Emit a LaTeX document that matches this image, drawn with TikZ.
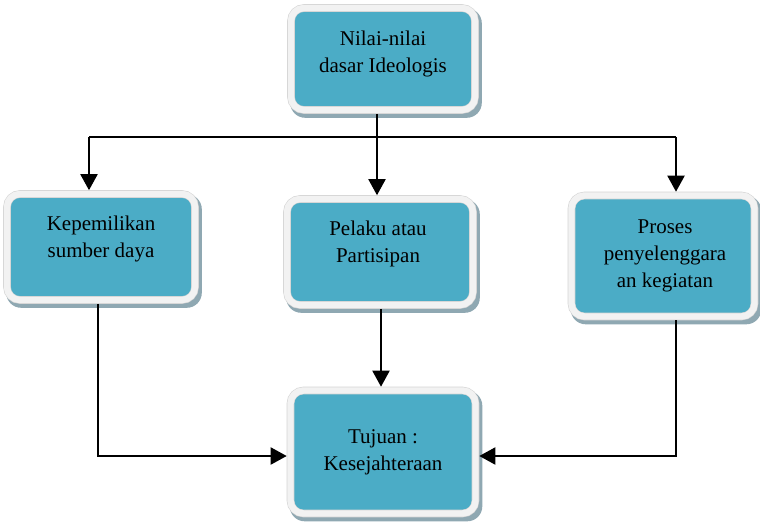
\documentclass[tikz,border=0pt]{standalone}
\usepackage{fontspec}
\setmainfont{Liberation Serif}
\usetikzlibrary{arrows.meta}
\pgfdeclarelayer{background}
\pgfsetlayers{background,main}
\definecolor{boxteal}{HTML}{4BACC6}
\definecolor{boxrim}{HTML}{F2F2F2}
\definecolor{boxline}{HTML}{D4D4D4}
\definecolor{boxshade}{HTML}{8FA8B2}

\begin{document}
\begin{tikzpicture}[x=1pt, y=-1pt,
  box/.style={draw=boxline, line width=0.6pt, double=boxrim, double distance=6.4pt,
    fill=boxteal, rounded corners=13pt, inner sep=0pt, outer sep=3.8pt},
  boxtext/.style={align=center, font=\fontsize{21}{27}\selectfont, inner sep=0pt},
  link/.style={line width=2pt, -{Triangle[length=16pt,width=17pt]}}]
\useasboundingbox (0,0) rectangle (760,523);

% kotak
\node[box, minimum width=184pt, minimum height=102pt] (nilai) at (383,59) {};
\node[box, minimum width=188pt, minimum height=106pt] (milik) at (101,247) {};
\node[box, minimum width=186pt, minimum height=106pt] (pelaku) at (380,252) {};
\node[box, minimum width=183pt, minimum height=121pt] (proses) at (663,256) {};
\node[box, minimum width=185pt, minimum height=123pt] (tujuan) at (383,452) {};

\begin{pgfonlayer}{background}
\foreach \b in {nilai,milik,pelaku,proses,tujuan}
  \fill[boxshade, rounded corners=15pt] ([shift={(3pt,-4pt)}]\b.south west) rectangle ([shift={(3pt,-4pt)}]\b.north east);
\end{pgfonlayer}

% teks
\node[boxtext] (nilaiT) at (383,54) {Nilai-nilai\\dasar Ideologis};
\node[boxtext] (milikT) at (101,239) {Kepemilikan\\sumber daya};
\node[boxtext] (pelakuT) at (378,244) {Pelaku atau\\Partisipan};
\node[boxtext] (prosesT) at (665,256) {Proses\\penyelenggara\\an kegiatan};
\node[boxtext] (tujuanT) at (383,452) {Tujuan :\\Kesejahteraan};

% panah
\coordinate (bus) at (377,137);
\coordinate (busL) at (89,137);
\coordinate (busR) at (676,137);
\draw[line width=2pt] ([xshift=-6pt]nilai.south) -- (bus);
\draw[line width=1.3pt] (busL) -- (busR);
\draw[link] (busL) -- (busL |- milik.north);
\draw[link] (bus) -- (bus |- pelaku.north);
\draw[link] (busR) -- (busR |- proses.north);
\draw[link] ([xshift=-3pt]milik.south) |- ([yshift=-4pt]tujuan.west);
\draw[link] ([xshift=1pt]pelaku.south) -- ([xshift=1pt]pelaku.south |- tujuan.north);
\draw[link] ([xshift=13pt]proses.south) |- ([yshift=-4pt]tujuan.east);
\end{tikzpicture}
\end{document}
